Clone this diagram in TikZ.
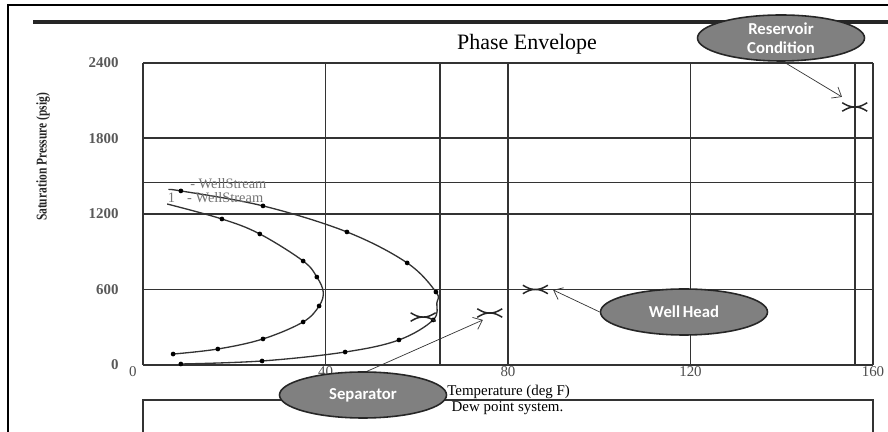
\documentclass[tikz,border=0pt]{standalone}
\usepackage{fontspec}
\setmainfont{Liberation Serif}
\newfontfamily\calloutfont{Carlito}
\usetikzlibrary{arrows.meta, positioning, shapes.geometric, calc}

\begin{document}
\begin{tikzpicture}[
  grid/.style={line width=1.1pt, black!80},
  envelope/.style={line width=0.75pt, black!80},
  ptdot/.style={circle, fill=black, inner sep=0pt, minimum size=2.7pt},
  callout/.style={ellipse, draw=black!85, line width=0.9pt, fill=gray,
                  text=white, font=\calloutfont\bfseries\fontsize{9.5}{10.5}\selectfont,
                  minimum width=3.34cm, minimum height=0.92cm, inner sep=0pt, align=center},
  pointer/.style={-{Straight Barb[length=1.6mm, width=2.6mm]}, thin, black!80},
  ylbl/.style={anchor=east, inner sep=0pt, text=black!65,
               font=\fontsize{8.5}{10}\selectfont\bfseries},
  xlbl/.style={inner sep=0pt, text=black!70, font=\fontsize{8.5}{10}\selectfont},
  legend/.style={anchor=west, inner sep=0pt, text=black!55, font=\fontsize{8.2}{10}\selectfont},
  xmark/.pic={\draw[line width=0.85pt, black!85]
      (-0.25cm,0.085cm) to[out=-30,in=180] (0,0) to[out=0,in=210] (0.25cm,0.085cm)
      (-0.25cm,-0.085cm) to[out=30,in=180] (0,0) to[out=0,in=150] (0.25cm,-0.085cm);}
]
  \useasboundingbox (0,0) rectangle (17.76,8.64);

  % Page frame and header rule
  \draw[line width=1.5pt] (0.16,0) -- (0.16,8.54) -- (17.76,8.54);
  \draw[line width=2pt, black!85] (0.66,8.2) -- (17.76,8.2);
  \node[font=\fontsize{12.5}{14}\selectfont] (title) at (10.54,7.76) {Phase Envelope};
  \node[rotate=90, inner sep=0pt, text=black!85, font=\fontsize{8.5}{10}\selectfont\bfseries]
    (ylabel) at (0.86,5.50) {\scalebox{0.77}[1]{Saturation Pressure (psig)}};

  % Caption box below the chart
  \draw[grid] (2.86,0) -- (2.86,0.64) -- (17.46,0.64) -- (17.46,0);
  \node[anchor=west, inner sep=0pt, font=\fontsize{8.5}{10}\selectfont] (xlabel) at (8.94,0.80) {Temperature (deg F)};
  \node[inner sep=0pt, font=\fontsize{8.5}{10}\selectfont] (caption) at (10.15,0.48) {Dew point system.};

  % Chart in data units: T in deg F, P in psig
  \begin{scope}[shift={(2.86,1.34)}, x=0.09125cm, y=0.0025167cm]
    \foreach \t in {0,40,65,80,120,156,160}
      \draw[grid] (\t,0) -- (\t,2400);
    \foreach \p in {0,600,1200,1450,1800,2400}
      \draw[grid] (0,\p) -- (160,\p);

    % Axis numbers
    \foreach \p in {600,1200,1800,2400}
      \node[ylbl] at (-5.3,\p) {\p};
    \node[ylbl] (y0) at (-5.3,0) {0};
    \node[xlbl] (x0) at (-2.2,-56) {0};
    \foreach \t in {40,80,120,160}
      \node[xlbl] at (\t,-56) {\t};

    % Outer envelope
    \draw[envelope] plot[smooth, tension=0.6] coordinates {
      (5.7,1391) (8.3,1383) (26.3,1264) (44.7,1057) (57.9,811) (64.2,580)
      (64.4,493) (63.6,358) (56.1,199) (44.3,103) (26.1,32) (8.3,8)};
    \foreach \t/\p in {8.3/1383, 26.3/1264, 44.7/1057, 57.9/811, 64.2/580,
                       63.6/358, 56.1/199, 44.3/103, 26.1/32, 8.3/8}
      \node[ptdot] at (\t,\p) {};

    % Inner envelope
    \draw[envelope] plot[smooth, tension=0.6] coordinates {
      (5.3,1279) (17.3,1160) (25.6,1041) (35.1,826) (38.1,699) (39.5,580)
      (38.6,469) (35.1,342) (26.3,207) (16.4,127) (6.6,87)};
    \foreach \t/\p in {17.3/1160, 25.6/1041, 35.1/826, 38.1/699, 38.6/469,
                       35.1/342, 26.3/207, 16.4/127, 6.6/87}
      \node[ptdot] at (\t,\p) {};

    % Curve labels
    \node[legend] (leg1) at (10.3,1438) {- WellStream};
    \node[legend] (leg2num) at (5.4,1330) {1};
    \node[legend] (leg2) at (9.6,1330) {- WellStream};

    % Operating points
    \coordinate (resmk) at (156,2050);
    \coordinate (wellmk) at (86,600);
    \coordinate (sepmk) at (76,413);
    \coordinate (curvemk) at (61.4,381);
    \foreach \m in {resmk, wellmk, sepmk, curvemk}
      \pic at (\m) {xmark};

    \coordinate (restip) at (153.2,2130);
    \coordinate (welltip) at (89.9,596);
    \coordinate (septip) at (74.5,358);
  \end{scope}

  % Callouts
  \node[callout] (rescond) at (15.62,7.88) {Reservoir\\Condition};
  \node[callout] (wellhead) at (13.68,2.40) {Well\,Head};
  \node[callout] (separator) at (7.26,0.74) {Separator};

  \draw[pointer] (rescond.-84) -- (restip);
  \draw[pointer] (wellhead.west) -- (welltip);
  \draw[pointer] (separator.80) -- (septip);
\end{tikzpicture}
\end{document}
